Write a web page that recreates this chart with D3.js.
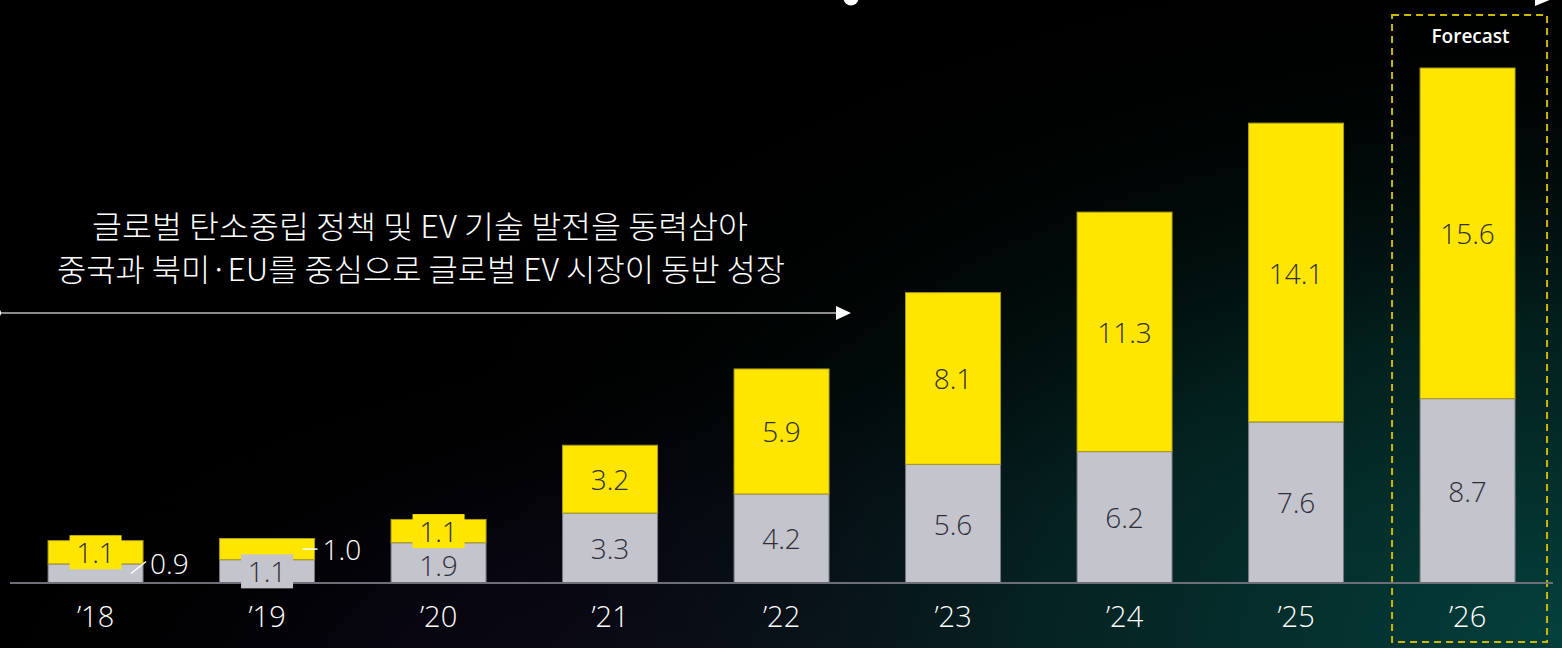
<!DOCTYPE html>
<html>
<head>
<meta charset="utf-8">
<script src="https://cdn.jsdelivr.net/npm/d3@7"></script>
<style>
  html, body { margin: 0; padding: 0; background: #000; }
  svg { display: block; }
</style>
</head>
<body>
<svg id="chart" width="1562" height="648"></svg>
<script>
// Global EV sales (million units), stacked by region group
const years = ["’18", "’19", "’20", "’21", "’22", "’23", "’24", "’25", "’26"];
const otherValues = [0.9, 1.1, 1.9, 3.3, 4.2, 5.6, 6.2, 7.6, 8.7];   // grey segment
const chinaValues = [1.1, 1.0, 1.1, 3.2, 5.9, 8.1, 11.3, 14.1, 15.6]; // yellow segment
const forecastYear = "’26";
const headline = [
  "글로벌 탄소중립 정책 및 EV 기술 발전을 동력삼아",
  "중국과 북미·EU를 중심으로 글로벌 EV 시장이 동반 성장"
];

const W = 1562, H = 648;
const svg = d3.select("#chart");
const defs = svg.append("defs");

// Background: black fading into deep teal/purple toward the bottom
const g1 = defs.append("radialGradient").attr("id", "tealGlow")
  .attr("cx", 1.0).attr("cy", 1.05).attr("r", 0.75)
  .attr("gradientTransform", "scale(1,1.4) translate(0,-0.35)");
g1.append("stop").attr("offset", "0%").attr("stop-color", "#04403c");
g1.append("stop").attr("offset", "45%").attr("stop-color", "#032824").attr("stop-opacity", 0.8);
g1.append("stop").attr("offset", "100%").attr("stop-color", "#000").attr("stop-opacity", 0);
const g2 = defs.append("radialGradient").attr("id", "purpleGlow")
  .attr("cx", 0.6).attr("cy", 1.1).attr("r", 0.6);
g2.append("stop").attr("offset", "0%").attr("stop-color", "#171027");
g2.append("stop").attr("offset", "60%").attr("stop-color", "#0c0818").attr("stop-opacity", 0.7);
g2.append("stop").attr("offset", "100%").attr("stop-color", "#000").attr("stop-opacity", 0);

svg.append("rect").attr("width", W).attr("height", H).attr("fill", "#000");
svg.append("rect").attr("width", W).attr("height", H).attr("fill", "url(#purpleGlow)");
svg.append("rect").attr("width", W).attr("height", H).attr("fill", "url(#tealGlow)");

const YELLOW = "#ffe600", GREY = "#c4c4cd", DARK = "#2e2e38";
const numFont = "'Open Sans', 'Noto Sans', sans-serif";

const x = d3.scaleBand().domain(years)
  .range([9.8, 1553.3]).paddingInner(0.446).paddingOuter(0.223);
const y = d3.scaleLinear().domain([0, 24.3]).range([583, 68]);

const data = years.map((yr, i) => ({
  yr, other: otherValues[i], china: chinaValues[i], total: otherValues[i] + chinaValues[i]
}));

// Forecast frame
const fx = x(forecastYear);
svg.append("rect")
  .attr("x", fx - 28).attr("y", 15)
  .attr("width", x.bandwidth() + 60).attr("height", 627)
  .attr("fill", "none").attr("stroke", "#cdb800")
  .attr("stroke-width", 2).attr("stroke-dasharray", "7,5");
svg.append("text")
  .attr("x", fx + x.bandwidth() / 2 + 3).attr("y", 43)
  .attr("text-anchor", "middle").attr("fill", "#fff")
  .attr("font-family", numFont).attr("font-weight", 600).attr("font-size", 19)
  .text("Forecast");

// Bars
const bars = svg.append("g");
bars.selectAll("rect.other").data(data).join("rect")
  .attr("class", "other")
  .attr("x", d => x(d.yr)).attr("width", x.bandwidth())
  .attr("y", d => y(d.other)).attr("height", d => y(0) - y(d.other))
  .attr("fill", GREY).attr("stroke", "#77777f").attr("stroke-width", 1);
bars.selectAll("rect.china").data(data).join("rect")
  .attr("class", "china")
  .attr("x", d => x(d.yr)).attr("width", x.bandwidth())
  .attr("y", d => y(d.total)).attr("height", d => y(d.other) - y(d.total))
  .attr("fill", YELLOW).attr("stroke", "#a89a20").attr("stroke-width", 1);

// Baseline
svg.append("line")
  .attr("x1", 10).attr("x2", 1553).attr("y1", y(0)).attr("y2", y(0))
  .attr("stroke", "#6e6e78").attr("stroke-width", 2);

// Value labels
const labels = svg.append("g").attr("font-family", numFont)
  .attr("font-weight", 300).attr("font-size", 28);
const cx = d => x(d.yr) + x.bandwidth() / 2;

function boxedLabel(xc, yc, txt, fill) {
  labels.append("rect").attr("x", xc - 26).attr("y", yc - 17)
    .attr("width", 52).attr("height", 34).attr("fill", fill);
  labels.append("text").attr("x", xc).attr("y", yc)
    .attr("text-anchor", "middle").attr("dominant-baseline", "central")
    .attr("fill", DARK).text(txt);
}
function plainLabel(xc, yc, txt, color, anchor) {
  labels.append("text").attr("x", xc).attr("y", yc)
    .attr("text-anchor", anchor || "middle").attr("dominant-baseline", "central")
    .attr("fill", color).text(txt);
}

const f1 = d3.format(".1f");
data.forEach((d, i) => {
  const cOther = (y(0) + y(d.other)) / 2;
  const cChina = (y(d.other) + y(d.total)) / 2;
  const right = x(d.yr) + x.bandwidth();
  if (i === 0) {
    boxedLabel(cx(d), cChina, f1(d.china), YELLOW);
    svg.append("line").attr("x1", right - 12).attr("y1", cOther)
      .attr("x2", right + 3).attr("y2", cOther - 12)
      .attr("stroke", "#fff").attr("stroke-width", 1.5);
    plainLabel(right + 7, cOther - 10, f1(d.other), "#fff", "start");
  } else if (i === 1) {
    boxedLabel(cx(d), cOther, f1(d.other), GREY);
    svg.append("line").attr("x1", right - 12).attr("y1", cChina)
      .attr("x2", right + 3).attr("y2", cChina)
      .attr("stroke", "#fff").attr("stroke-width", 1.5);
    plainLabel(right + 8, cChina, f1(d.china), "#fff", "start");
  } else if (i === 2) {
    plainLabel(cx(d), cOther + 2, f1(d.other), DARK);
    boxedLabel(cx(d), cChina, f1(d.china), YELLOW);
  } else {
    plainLabel(cx(d), cOther, f1(d.other), DARK);
    plainLabel(cx(d), cChina, f1(d.china), DARK);
  }
});

// Category axis labels
svg.append("g").selectAll("text").data(years).join("text")
  .attr("x", d => x(d) + x.bandwidth() / 2).attr("y", 615)
  .attr("text-anchor", "middle").attr("dominant-baseline", "central")
  .attr("fill", "#fff").attr("font-family", numFont)
  .attr("font-weight", 300).attr("font-size", 29)
  .text(d => d);

// Growth arrow and headline
svg.append("line").attr("x1", 0).attr("x2", 838).attr("y1", 313).attr("y2", 313)
  .attr("stroke", "#8c8c8c").attr("stroke-width", 2);
svg.append("path").attr("d", "M836,306 L851,313 L836,320 Z").attr("fill", "#fff");
svg.append("circle").attr("cx", -3).attr("cy", 313).attr("r", 4).attr("fill", "#fff");

// Top timeline ends (cropped at the top edge)
svg.append("circle").attr("cx", 851).attr("cy", -2).attr("r", 7.5).attr("fill", "#fff");
svg.append("path").attr("d", "M1535,-9 L1552,-1 L1535,6 Z").attr("fill", "#fff");

const head = svg.append("g")
  .attr("font-family", "'Noto Sans CJK KR', sans-serif")
  .attr("font-weight", 300).attr("font-size", 31).attr("fill", "#fff");
head.append("text").attr("x", 92).attr("y", 238)
  .attr("textLength", 656).attr("lengthAdjust", "spacingAndGlyphs")
  .text(headline[0]);
head.append("text").attr("x", 57).attr("y", 281)
  .attr("textLength", 728).attr("lengthAdjust", "spacingAndGlyphs")
  .text(headline[1]);
</script>
</body>
</html>
